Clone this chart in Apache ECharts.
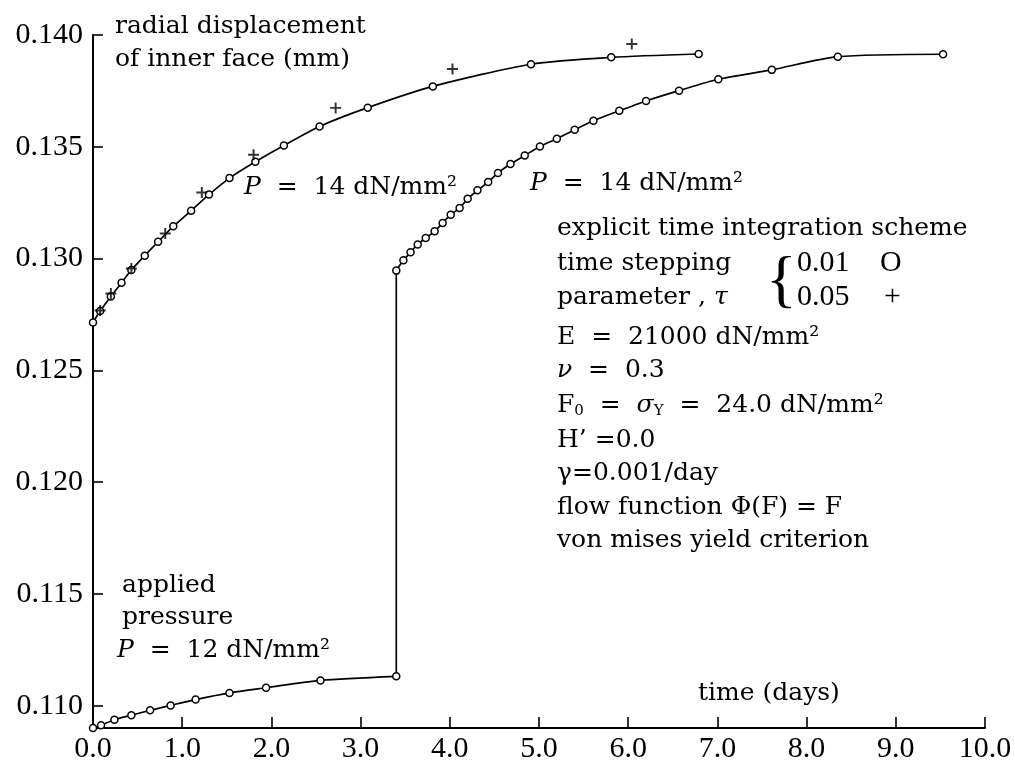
<!DOCTYPE html>
<html>
<head>
<meta charset="utf-8">
<script src="https://cdn.jsdelivr.net/npm/echarts@6/dist/echarts.min.js"></script>
<style>html,body{margin:0;padding:0;background:#fff;}#c{width:1015px;height:776px;}</style>
</head>
<body>
<div id="c"></div>
<script>
// ---- data ----
// P = 14 applied at t = 0, time stepping 0.01 (circles)
const upperT = [0, 0.08, 0.20, 0.32, 0.43, 0.58, 0.73, 0.90, 1.10, 1.30, 1.53, 1.82, 2.14, 2.54, 3.08, 3.81, 4.91, 5.81, 6.79];
const upperV = [0.12714, 0.12765, 0.12830, 0.12892, 0.12949, 0.13013, 0.13075, 0.13144, 0.13214, 0.13286, 0.13360, 0.13433, 0.13506, 0.13591, 0.13675, 0.13770, 0.13869, 0.13900, 0.13915];
// P = 14 applied at t = 0, time stepping 0.05 (plus)
const plusT = [0.08, 0.20, 0.43, 0.81, 1.22, 1.80, 2.72, 4.03, 6.04];
const plusV = [0.12768, 0.12844, 0.12955, 0.13112, 0.13295, 0.13464, 0.13674, 0.13848, 0.13960];
// P = 12 then raised to 14
const lowerT = [0, 0.09, 0.24, 0.43, 0.64, 0.87, 1.15, 1.53, 1.94, 2.55, 3.40];
const lowerV = [0.10900, 0.10912, 0.10937, 0.10957, 0.10979, 0.11001, 0.11027, 0.11057, 0.11080, 0.11113, 0.11131];
const rightT = [3.40, 3.48, 3.56, 3.64, 3.73, 3.83, 3.92, 4.01, 4.11, 4.20, 4.31, 4.43, 4.54, 4.68, 4.84, 5.01, 5.20, 5.40, 5.61, 5.90, 6.20, 6.57, 7.01, 7.61, 8.35, 9.53];
const rightV = [0.12946, 0.12992, 0.13028, 0.13063, 0.13092, 0.13122, 0.13159, 0.13196, 0.13226, 0.13267, 0.13305, 0.13342, 0.13383, 0.13423, 0.13461, 0.13501, 0.13536, 0.13576, 0.13616, 0.13661, 0.13705, 0.13751, 0.13802, 0.13844, 0.13903, 0.13914];
// axis ticks
const yTicks = [0.110, 0.115, 0.120, 0.125, 0.130, 0.135, 0.140];
const xTicks = [0, 1, 2, 3, 4, 5, 6, 7, 8, 9, 10];

const zip = (a, b) => a.map((v, i) => [v, b[i]]);
const SERIF = "'DejaVu Serif', serif";
const TIMES = "'Liberation Serif', 'Times New Roman', serif";
const FS = 25;

const circleSeries = (name, data) => ({
  name, type: 'line', data, smooth: 0.25, clip: false,
  symbol: 'circle', symbolSize: 7, showSymbol: true,
  lineStyle: { color: '#000', width: 1.7 },
  itemStyle: { color: '#fff', borderColor: '#000', borderWidth: 1.5 },
  z: 3
});
const plainLine = (name, data) => ({
  name, type: 'line', data, symbol: 'none', clip: false,
  lineStyle: { color: '#000', width: 1.7 }, z: 2
});

const chart = echarts.init(document.getElementById('c'), null, { renderer: 'canvas' });

const txt = (x, y, text, extra) => ({
  type: 'text', x, y, silent: true,
  style: Object.assign({
    text, fill: '#000', fontFamily: SERIF, fontSize: FS, verticalAlign: 'middle', align: 'left'
  }, extra || {})
});
const richBase = {
  n: { fontFamily: SERIF, fontSize: FS, lineHeight: 28, verticalAlign: 'middle' },
  i: { fontFamily: SERIF, fontSize: FS, fontStyle: 'italic', lineHeight: 28, verticalAlign: 'middle' },
  s: { fontFamily: SERIF, fontSize: 15, lineHeight: 28, verticalAlign: 'bottom' },
  si: { fontFamily: SERIF, fontSize: 15, fontStyle: 'italic', lineHeight: 28, verticalAlign: 'bottom' }
};
const rtxt = (x, y, text) => txt(x, y, text, { rich: richBase });

const option = {
  animation: false,
  backgroundColor: '#fff',
  grid: { left: 93, right: 30, top: 35, bottom: 48, containLabel: false, outerBoundsMode: 'none' },
  xAxis: {
    type: 'value', min: xTicks[0], max: xTicks[xTicks.length - 1], interval: 1,
    axisLine: { show: true, lineStyle: { color: '#000', width: 2 } },
    axisTick: { show: true, inside: true, length: 11, lineStyle: { color: '#000', width: 1.6 } },
    axisLabel: { color: '#000', fontFamily: TIMES, fontSize: 30, margin: 6, formatter: v => v.toFixed(1) },
    splitLine: { show: false }
  },
  yAxis: {
    type: 'value', min: 0.109, max: yTicks[yTicks.length - 1],
    axisLine: { show: true, lineStyle: { color: '#000', width: 2 } },
    axisTick: { show: true, inside: true, length: 10, customValues: yTicks, lineStyle: { color: '#000', width: 1.6 } },
    axisLabel: { color: '#000', fontFamily: TIMES, fontSize: 30, margin: 10, customValues: yTicks, formatter: v => v.toFixed(3) },
    splitLine: { show: false }
  },
  series: [
    plainLine('jump0', [[lowerT[0], lowerV[0]], [upperT[0], upperV[0]]]),
    plainLine('jump1', [[lowerT[lowerT.length - 1], lowerV[lowerV.length - 1]], [rightT[0], rightV[0]]]),
    circleSeries('upper 0.01', zip(upperT, upperV)),
    circleSeries('lower 0.01', zip(lowerT, lowerV)),
    circleSeries('right 0.01', zip(rightT, rightV)),
    {
      name: 'upper 0.05', type: 'scatter', data: zip(plusT, plusV), clip: false,
      symbol: 'path://M4.1,0H5.9V4.1H10V5.9H5.9V10H4.1V5.9H0V4.1H4.1Z', symbolSize: 11,
      itemStyle: { color: '#000' }, z: 4
    }
  ],
  graphic: [
    txt(115, 26, 'radial displacement'),
    txt(115, 59, 'of inner face (mm)'),
    rtxt(244, 187, '{i|P}{n|  =  14 dN/mm²}'),
    rtxt(530, 183, '{i|P}{n|  =  14 dN/mm²}'),
    txt(122, 585, 'applied'),
    txt(122, 617, 'pressure'),
    rtxt(117, 650, '{i|P}{n|  =  12 dN/mm²}'),
    txt(698, 693, 'time (days)'),
    txt(557, 228, 'explicit time integration scheme'),
    txt(557, 263, 'time stepping'),
    rtxt(557, 297, '{n|parameter , }{i|τ}'),
    txt(766, 283, '{', { fontFamily: TIMES, fontSize: 64 }),
    txt(797, 263, '0.01', { fontFamily: TIMES, fontSize: 30 }),
    txt(880, 263, 'O', { fontFamily: TIMES, fontSize: 30 }),
    txt(797, 297, '0.05', { fontFamily: TIMES, fontSize: 30 }),
    txt(884, 297, '+', { fontFamily: TIMES, fontSize: 30 }),
    txt(557, 337, 'E  =  21000 dN/mm²'),
    rtxt(557, 370, '{i|ν}{n|  =  0.3}'),
    rtxt(557, 405, '{n|F}{s|0}{n|  =  }{i|σ}{s|Y}{n|  =  24.0 dN/mm²}'),
    txt(557, 440, 'H’ =0.0'),
    txt(557, 473, 'γ=0.001/day'),
    txt(557, 507, 'flow function Φ(F) = F'),
    txt(557, 540, 'von mises yield criterion')
  ]
};
chart.setOption(option);
</script>
</body>
</html>
